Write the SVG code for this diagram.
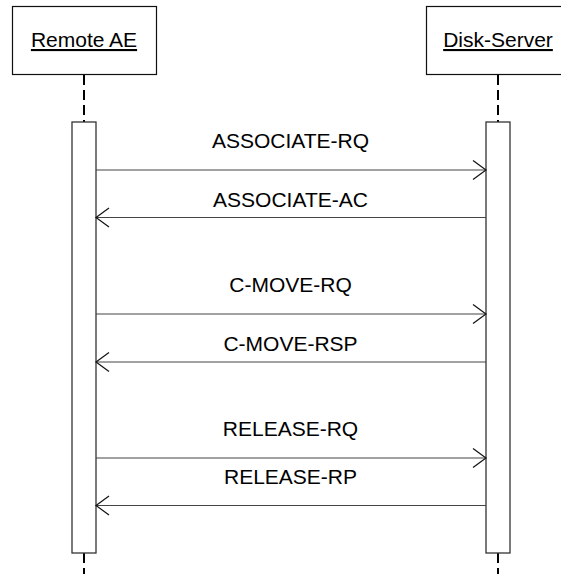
<svg xmlns="http://www.w3.org/2000/svg" width="561" height="574" viewBox="0 0 561 574">
<style>
.obj{fill:#ffffff;stroke:#111;stroke-width:1.2}
.act{fill:#ffffff;stroke:#333;stroke-width:1.3}
.life{stroke:#000;stroke-width:2;stroke-dasharray:10,5;fill:none}
.msg{stroke:#444;stroke-width:1.2;fill:none}
.lbl{font-family:"Liberation Sans",Arial,sans-serif;font-size:21px;fill:#000;text-anchor:middle}
.name{font-family:"Liberation Sans",Arial,sans-serif;font-size:21px;fill:#000;text-anchor:middle;text-decoration:underline}
</style>
<defs>
<marker id="open" markerWidth="16" markerHeight="22" refX="14" refY="10" orient="auto" markerUnits="userSpaceOnUse">
<path d="M1,0.5 L14,10 L1,19.5" fill="none" stroke="#111" stroke-width="1.2"/>
</marker>
</defs>
<g id="remote-ae">
<rect class="obj" x="12.5" y="6.5" width="144" height="68"/>
<text class="name" x="84" y="47">Remote AE</text>
<line class="life" x1="84" y1="75" x2="84" y2="122"/>
<line class="life" x1="84" y1="553" x2="84" y2="574"/>
<rect class="act" x="72" y="122" width="24" height="431"/>
</g>
<g id="disk-server">
<rect class="obj" x="426.5" y="6.5" width="144" height="68"/>
<text class="name" x="498" y="47">Disk-Server</text>
<line class="life" x1="498" y1="75" x2="498" y2="122"/>
<line class="life" x1="498" y1="553" x2="498" y2="574"/>
<rect class="act" x="486" y="122" width="24" height="431"/>
</g>
<g id="connectors">
<line class="msg" x1="96" y1="170" x2="486" y2="170" marker-end="url(#open)"/>
<line class="msg" x1="486" y1="217.5" x2="96" y2="217.5" marker-end="url(#open)"/>
<line class="msg" x1="96" y1="314" x2="486" y2="314" marker-end="url(#open)"/>
<line class="msg" x1="486" y1="362" x2="96" y2="362" marker-end="url(#open)"/>
<line class="msg" x1="96" y1="458" x2="486" y2="458" marker-end="url(#open)"/>
<line class="msg" x1="486" y1="505.5" x2="96" y2="505.5" marker-end="url(#open)"/>
<text class="lbl" x="290.5" y="148">ASSOCIATE-RQ</text>
<text class="lbl" x="290.5" y="207">ASSOCIATE-AC</text>
<text class="lbl" x="290.5" y="292">C-MOVE-RQ</text>
<text class="lbl" x="290.5" y="351">C-MOVE-RSP</text>
<text class="lbl" x="290.5" y="436">RELEASE-RQ</text>
<text class="lbl" x="290.5" y="483.5">RELEASE-RP</text>
</g>
</svg>
